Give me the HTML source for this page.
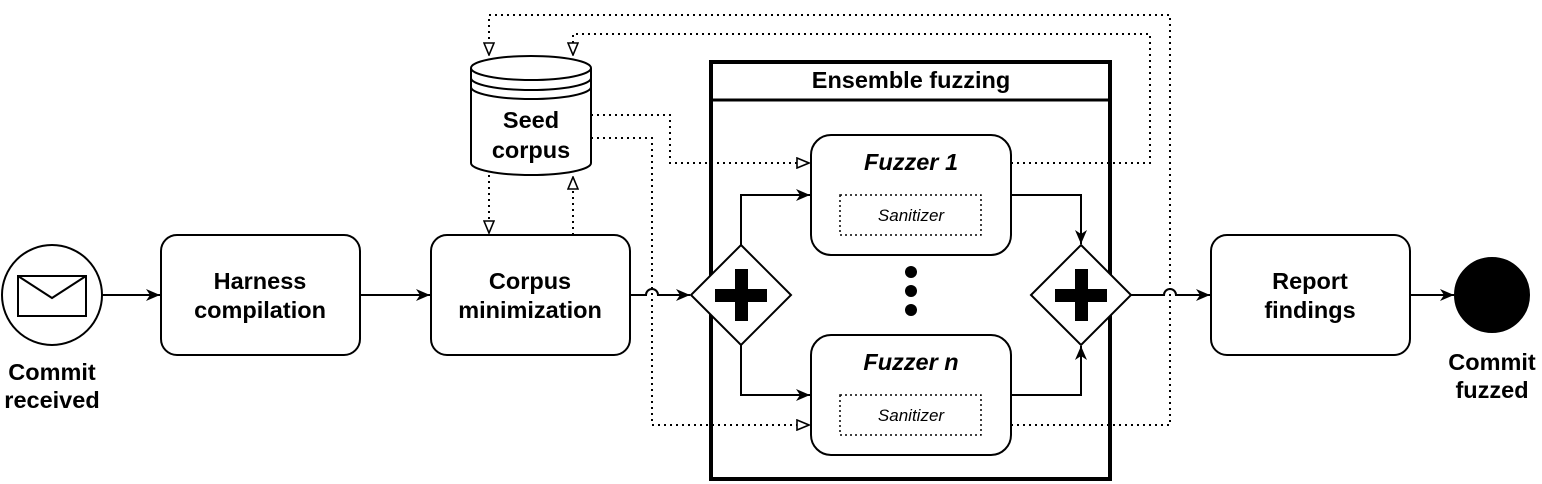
<!DOCTYPE html>
<html><head><meta charset="utf-8"><style>body{margin:0;background:#fff}svg{display:block}text{font-family:"Liberation Sans",Arial,sans-serif}</style></head><body>
<svg width="1542" height="484" viewBox="0 0 1542 484" xmlns="http://www.w3.org/2000/svg">
<defs>
<marker id="a" viewBox="0 0 14 12" refX="14" refY="6" markerWidth="14" markerHeight="12" markerUnits="userSpaceOnUse" orient="auto"><path d="M0,0 L14,6 L0,12 L4,6z" fill="#000"/></marker>
<marker id="o" viewBox="0 0 14 12" refX="13" refY="6" markerWidth="14" markerHeight="12" markerUnits="userSpaceOnUse" orient="auto"><path d="M1,1 L13,6 L1,11z" fill="#fff" stroke="#000" stroke-width="1.6"/></marker>
</defs>
<g fill="none" stroke="#000" stroke-width="2">
<circle cx="52" cy="295" r="50" fill="#fff"/>
<rect x="18" y="276" width="68" height="40"/>
<path d="M18,276 L52,298 L86,276"/>
<rect x="161" y="235" width="199" height="120" rx="16" fill="#fff"/>
<rect x="431" y="235" width="199" height="120" rx="16" fill="#fff"/>
<rect x="1211" y="235" width="199" height="120" rx="16" fill="#fff"/>
<circle cx="1492" cy="295" r="37" fill="#000"/>
<rect x="711" y="62" width="399" height="417" stroke-width="4"/>
<line x1="711" y1="100" x2="1110" y2="100" stroke-width="3"/>
<rect x="811" y="135" width="200" height="120" rx="20" fill="#fff"/>
<rect x="811" y="335" width="200" height="120" rx="20" fill="#fff"/>
<rect x="840" y="195" width="141" height="40" stroke-width="1.5" stroke-dasharray="2,3"/>
<rect x="840" y="395" width="141" height="40" stroke-width="1.5" stroke-dasharray="2,3"/>
<path d="M741,245 L791,295 L741,345 L691,295z" fill="#fff"/>
<path d="M1081,245 L1131,295 L1081,345 L1031,295z" fill="#fff"/>
<path d="M471,68 L471,163 A60,12 0 0 0 591,163 L591,68" fill="#fff"/>
<ellipse cx="531" cy="68" rx="60" ry="12" fill="#fff"/>
<path d="M471,78 A60,12 0 0 0 591,78"/>
<path d="M471,87 A60,12 0 0 0 591,87"/>
<path d="M102,295 L160,295" marker-end="url(#a)"/>
<path d="M360,295 L430,295" marker-end="url(#a)"/>
<path d="M630,295 L646,295 A6,6 0 0 1 658,295 L690,295" marker-end="url(#a)"/>
<path d="M741,245 L741,195 L810,195" marker-end="url(#a)"/>
<path d="M741,345 L741,395 L810,395" marker-end="url(#a)"/>
<path d="M1011,195 L1081,195 L1081,244" marker-end="url(#a)"/>
<path d="M1011,395 L1081,395 L1081,346" marker-end="url(#a)"/>
<path d="M1131,295 L1164,295 A6,6 0 0 1 1176,295 L1210,295" marker-end="url(#a)"/>
<path d="M1410,295 L1454,295" marker-end="url(#a)"/>
</g>
<g fill="none" stroke="#000" stroke-width="2" stroke-dasharray="2,4">
<path d="M489,175 L489,233" marker-end="url(#o)"/>
<path d="M573,235 L573,177" marker-end="url(#o)"/>
<path d="M591,115 L670,115 L670,163 L809,163" marker-end="url(#o)"/>
<path d="M591,138 L652,138 L652,425 L809,425" marker-end="url(#o)"/>
<path d="M1011,163 L1150,163 L1150,34 L573,34 L573,55" marker-end="url(#o)"/>
<path d="M1011,425 L1170,425 L1170,15 L489,15 L489,55" marker-end="url(#o)"/>
</g>
<g fill="#000">
<rect x="735" y="269" width="13" height="52"/><rect x="715" y="289" width="52" height="13"/>
<rect x="1075" y="269" width="13" height="52"/><rect x="1055" y="289" width="52" height="13"/>
<circle cx="911" cy="272" r="6"/><circle cx="911" cy="291" r="6"/><circle cx="911" cy="310" r="6"/>
</g>
<g font-weight="bold" font-size="23.5" text-anchor="middle" fill="#000">
<text x="260" y="289">Harness</text><text x="260" y="318">compilation</text>
<text x="530" y="289">Corpus</text><text x="530" y="318">minimization</text>
<text x="1310" y="289">Report</text><text x="1310" y="318">findings</text>
<text x="531" y="128">Seed</text><text x="531" y="158">corpus</text>
<text x="911" y="88">Ensemble fuzzing</text>
<text x="52" y="380">Commit</text><text x="52" y="408">received</text>
<text x="1492" y="370">Commit</text><text x="1492" y="398">fuzzed</text>
<text x="911" y="170" font-style="italic">Fuzzer 1</text>
<text x="911" y="370" font-style="italic">Fuzzer n</text>
</g>
<g font-size="17" font-style="italic" text-anchor="middle" fill="#000">
<text x="911" y="221">Sanitizer</text><text x="911" y="421">Sanitizer</text>
</g>
</svg>
</body></html>
